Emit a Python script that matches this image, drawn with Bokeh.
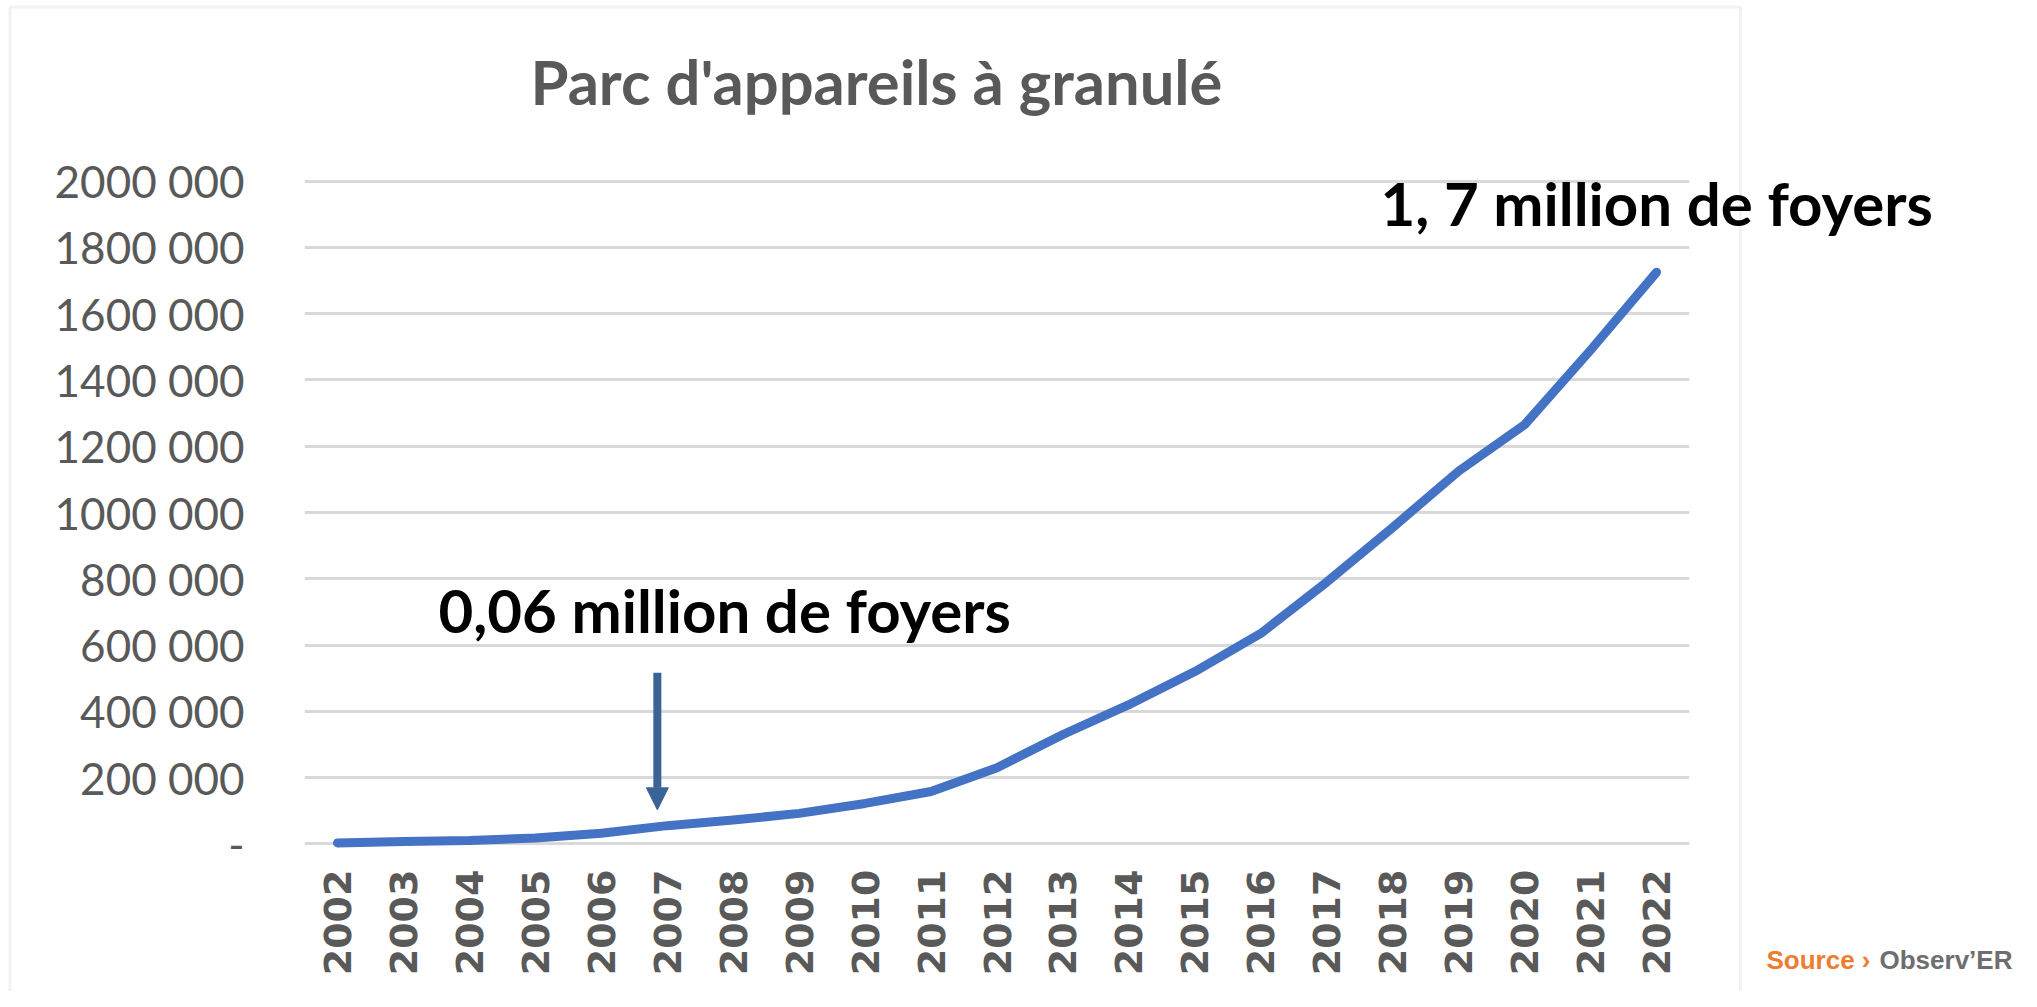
from math import pi
from bokeh.plotting import figure
from bokeh.models import (FactorRange, Range1d, FixedTicker, Label, Arrow,
                          NormalHead, BoxAnnotation, GridBox)
from bokeh.embed import file_html
from bokeh.resources import INLINE

# ---- data ----
years = [str(y) for y in range(2002, 2023)]
parc = [3000, 7000, 10000, 18000, 32000, 55000, 72000, 92000, 122000, 158000,
        230000, 330000, 420000, 520000, 635000, 790000, 955000, 1125000,
        1265000, 1490000, 1725000]
y_ticks = [0, 200000, 400000, 600000, 800000, 1000000, 1200000, 1400000,
           1600000, 1800000, 2000000]
y_tick_labels = ["-", "200 000", "400 000", "600 000", "800 000", "1000 000",
                 "1200 000", "1400 000", "1600 000", "1800 000", "2000 000"]
title_text = "Parc d'appareils à granulé"
note_2007 = "0,06 million de foyers"
note_2022 = "1, 7 million de foyers"
source_a = "Source ›"
source_b = "Observ’ER"

GRAY = "#595959"
W, H = 2021, 991

# ---- main chart ----
p = figure(width=W, height=H, x_range=FactorRange(*years),
           y_range=Range1d(-20000, 2020000),
           output_backend="svg", toolbar_location=None, title=None,
           min_border_left=304, min_border_right=W - 1689,
           min_border_top=174, min_border_bottom=H - 850)
p.outline_line_color = None
p.background_fill_color = "white"
p.border_fill_color = "white"

p.xgrid.grid_line_color = None
p.ygrid.ticker = FixedTicker(ticks=y_ticks)
p.ygrid.grid_line_color = "#D9D9D9"
p.ygrid.grid_line_width = 3

p.yaxis.ticker = FixedTicker(ticks=y_ticks)
p.yaxis.major_label_overrides = {t: l for t, l in zip(y_ticks, y_tick_labels)}
p.yaxis.axis_line_color = None
p.yaxis.major_tick_line_color = None
p.yaxis.minor_tick_line_color = None
p.yaxis.major_label_standoff = 54
p.yaxis.major_label_text_font = "Lato"
p.yaxis.major_label_text_font_size = "44px"
p.yaxis.major_label_text_color = GRAY

p.xaxis.axis_line_color = None
p.xaxis.major_tick_line_color = None
p.xaxis.minor_tick_line_color = None
p.xaxis.major_label_orientation = pi / 2
p.xaxis.major_label_standoff = 13
p.xaxis.major_label_text_font = "DejaVu Sans"
p.xaxis.major_label_text_font_style = "bold"
p.xaxis.major_label_text_font_size = "38px"
p.xaxis.major_label_text_color = GRAY

p.line(x=years, y=parc, line_width=9, line_color="#4472C4",
       line_join="round", line_cap="round")

p.add_layout(Label(x=2.03, y=705000, text=note_2007, text_align="left",
                   text_baseline="alphabetic", text_font="Lato",
                   text_font_style="bold", text_font_size="60px",
                   text_color="black"))
p.add_layout(Arrow(x_start=5.35, y_start=516600, x_end=5.35, y_end=102700,
                   line_color="#3B6496", line_width=8,
                   end=NormalHead(size=22, fill_color="#3B6496",
                                  line_color="#3B6496")))

# ---- overlay canvas for texts and frame outside the plot area ----
q = figure(width=W, height=H, x_range=Range1d(0, W), y_range=Range1d(H, 0),
           x_axis_type=None, y_axis_type=None, output_backend="svg",
           toolbar_location=None, title=None, min_border=0)
if "frame_align" in q.properties():
    q.frame_align = False
    p.frame_align = False
q.outline_line_color = None
q.background_fill_color = None
q.border_fill_color = None
q.grid.visible = False

q.add_layout(BoxAnnotation(left=9.5, right=1740, top=6.5, bottom=H + 20,
                           fill_color=None, line_color="#D4D4D4",
                           line_width=3))
q.add_layout(Label(x=876, y=80, text=title_text, text_align="center",
                   text_baseline="alphabetic", text_font="Lato",
                   text_font_style="bold", text_font_size="61.5px",
                   text_color=GRAY))
q.add_layout(Label(x=1380, y=202, text=note_2022, text_align="left",
                   text_baseline="alphabetic", text_font="Lato",
                   text_font_style="bold", text_font_size="60px",
                   text_color="black"))
q.add_layout(Label(x=1766, y=959, text=source_a, text_align="left",
                   text_baseline="alphabetic", text_font="Liberation Sans",
                   text_font_style="bold", text_font_size="26px",
                   text_color="#EE7D31"))
q.add_layout(Label(x=1879, y=959, text=source_b, text_align="left",
                   text_baseline="alphabetic", text_font="Liberation Sans",
                   text_font_style="bold", text_font_size="26px",
                   text_color="#6D6E71"))

layout = GridBox(children=[(p, 0, 0), (q, 0, 0)])
open("out.html", "w").write(file_html(layout, INLINE))
